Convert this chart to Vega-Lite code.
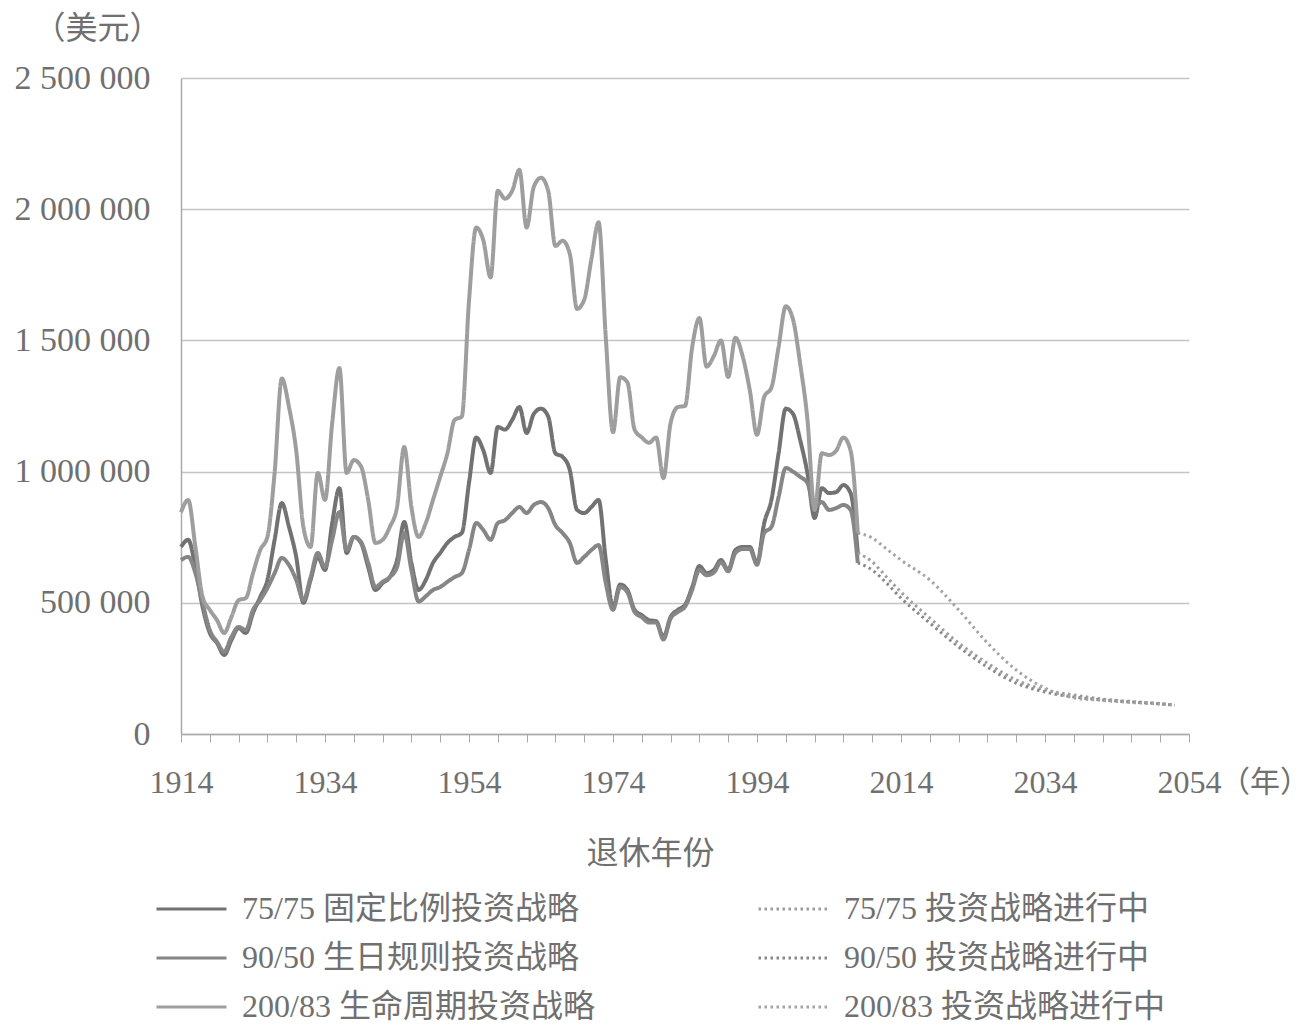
{
  "$schema": "https://vega.github.io/schema/vega-lite/v6.json",
  "width": 1008,
  "height": 656,
  "autosize": "none",
  "padding": {"left": 181, "top": 78, "right": 123, "bottom": 298},
  "background": "white",
  "datasets": {
    "solid": [
      {"year": 1914, "75/75 固定比例投资战略": 713000, "90/50 生日规则投资战略": 663000, "200/83 生命周期投资战略": 845000},
      {"year": 1915, "75/75 固定比例投资战略": 740000, "90/50 生日规则投资战略": 675000, "200/83 生命周期投资战略": 892000},
      {"year": 1916, "75/75 固定比例投资战略": 636000, "90/50 生日规则投资战略": 613000, "200/83 生命周期投资战略": 713000},
      {"year": 1917, "75/75 固定比例投资战略": 484000, "90/50 生日规则投资战略": 500000, "200/83 生命周期投资战略": 522000},
      {"year": 1918, "75/75 固定比例投资战略": 385000, "90/50 生日规则投资战略": 396000, "200/83 生命周期投资战略": 473000},
      {"year": 1919, "75/75 固定比例投资战略": 347000, "90/50 生日规则投资战略": 351000, "200/83 生命周期投资战略": 434000},
      {"year": 1920, "75/75 固定比例投资战略": 301000, "90/50 生日规则投资战略": 313000, "200/83 生命周期投资战略": 385000},
      {"year": 1921, "75/75 固定比例投资战略": 358000, "90/50 生日规则投资战略": 370000, "200/83 生命周期投资战略": 446000},
      {"year": 1922, "75/75 固定比例投资战略": 404000, "90/50 生日规则投资战略": 408000, "200/83 生命周期投资战略": 510000},
      {"year": 1923, "75/75 固定比例投资战略": 385000, "90/50 生日规则投资战略": 396000, "200/83 生命周期投资战略": 518000},
      {"year": 1924, "75/75 固定比例投资战略": 461000, "90/50 生日规则投资战略": 473000, "200/83 生命周期投资战略": 613000},
      {"year": 1925, "75/75 固定比例投资战略": 522000, "90/50 生日规则投资战略": 510000, "200/83 生命周期投资战略": 701000},
      {"year": 1926, "75/75 固定比例投资战略": 587000, "90/50 生日规则投资战略": 556000, "200/83 生命周期投资战略": 751000},
      {"year": 1927, "75/75 固定比例投资战略": 740000, "90/50 生日规则投资战略": 613000, "200/83 生命周期投资战略": 995000},
      {"year": 1928, "75/75 固定比例投资战略": 880000, "90/50 生日规则投资战略": 671000, "200/83 生命周期投资战略": 1355000},
      {"year": 1929, "75/75 固定比例投资战略": 789000, "90/50 生日规则投资战略": 644000, "200/83 生命周期投资战略": 1246000},
      {"year": 1930, "75/75 固定比例投资战略": 675000, "90/50 生日规则投资战略": 587000, "200/83 生命周期投资战略": 1080000},
      {"year": 1931, "75/75 固定比例投资战略": 500000, "90/50 生日规则投资战略": 510000, "200/83 生命周期投资战略": 789000},
      {"year": 1932, "75/75 固定比例投资战略": 587000, "90/50 生日规则投资战略": 598000, "200/83 生命周期投资战略": 713000},
      {"year": 1933, "75/75 固定比例投资战略": 675000, "90/50 生日规则投资战略": 690000, "200/83 生命周期投资战略": 995000},
      {"year": 1934, "75/75 固定比例投资战略": 625000, "90/50 生日规则投资战略": 636000, "200/83 生命周期投资战略": 892000},
      {"year": 1935, "75/75 固定比例投资战略": 804000, "90/50 生日规则投资战略": 740000, "200/83 生命周期投资战略": 1185000},
      {"year": 1936, "75/75 固定比例投资战略": 937000, "90/50 生日规则投资战略": 846000, "200/83 生命周期投资战略": 1395000},
      {"year": 1937, "75/75 固定比例投资战略": 690000, "90/50 生日规则投资战略": 701000, "200/83 生命周期投资战略": 995000},
      {"year": 1938, "75/75 固定比例投资战略": 751000, "90/50 生日规则投资战略": 751000, "200/83 生命周期投资战略": 1044000},
      {"year": 1939, "75/75 固定比例投资战略": 728000, "90/50 生日规则投资战略": 732000, "200/83 生命周期投资战略": 1020000},
      {"year": 1940, "75/75 固定比例投资战略": 636000, "90/50 生日规则投资战略": 652000, "200/83 生命周期投资战略": 892000},
      {"year": 1941, "75/75 固定比例投资战略": 549000, "90/50 生日规则投资战略": 560000, "200/83 生命周期投资战略": 728000},
      {"year": 1942, "75/75 固定比例投资战略": 575000, "90/50 生日规则投资战略": 580000, "200/83 生命周期投资战略": 740000},
      {"year": 1943, "75/75 固定比例投资战略": 598000, "90/50 生日规则投资战略": 598000, "200/83 生命周期投资战略": 789000},
      {"year": 1944, "75/75 固定比例投资战略": 663000, "90/50 生日规则投资战略": 636000, "200/83 生命周期投资战略": 865000},
      {"year": 1945, "75/75 固定比例投资战略": 808000, "90/50 生日规则投资战略": 766000, "200/83 生命周期投资战略": 1094000},
      {"year": 1946, "75/75 固定比例投资战略": 652000, "90/50 生日规则投资战略": 625000, "200/83 生命周期投资战略": 865000},
      {"year": 1947, "75/75 固定比例投资战略": 549000, "90/50 生日规则投资战略": 505000, "200/83 生命周期投资战略": 751000},
      {"year": 1948, "75/75 固定比例投资战略": 587000, "90/50 生日规则投资战略": 525000, "200/83 生命周期投资战略": 804000},
      {"year": 1949, "75/75 固定比例投资战略": 652000, "90/50 生日规则投资战略": 549000, "200/83 生命周期投资战略": 892000},
      {"year": 1950, "75/75 固定比例投资战略": 690000, "90/50 生日规则投资战略": 560000, "200/83 生命周期投资战略": 980000},
      {"year": 1951, "75/75 固定比例投资战略": 728000, "90/50 生日规则投资战略": 580000, "200/83 生命周期投资战略": 1070000},
      {"year": 1952, "75/75 固定比例投资战略": 751000, "90/50 生日规则投资战略": 598000, "200/83 生命周期投资战略": 1197000},
      {"year": 1953, "75/75 固定比例投资战略": 766000, "90/50 生日规则投资战略": 613000, "200/83 生命周期投资战略": 1210000},
      {"year": 1954, "75/75 固定比例投资战略": 957000, "90/50 生日规则投资战略": 701000, "200/83 生命周期投资战略": 1650000},
      {"year": 1955, "75/75 固定比例投资战略": 1130000, "90/50 生日规则投资战略": 804000, "200/83 生命周期投资战略": 1930000},
      {"year": 1956, "75/75 固定比例投资战略": 1080000, "90/50 生日规则投资战略": 777000, "200/83 生命周期投资战略": 1880000},
      {"year": 1957, "75/75 固定比例投资战略": 995000, "90/50 生日规则投资战略": 740000, "200/83 生命周期投资战略": 1740000},
      {"year": 1958, "75/75 固定比例投资战略": 1170000, "90/50 生日规则投资战略": 804000, "200/83 生命周期投资战略": 2070000},
      {"year": 1959, "75/75 固定比例投资战略": 1160000, "90/50 生日规则投资战略": 815000, "200/83 生命周期投资战略": 2040000},
      {"year": 1960, "75/75 固定比例投资战略": 1197000, "90/50 生日规则投资战略": 842000, "200/83 生命周期投资战略": 2070000},
      {"year": 1961, "75/75 固定比例投资战略": 1246000, "90/50 生日规则投资战略": 865000, "200/83 生命周期投资战略": 2150000},
      {"year": 1962, "75/75 固定比例投资战略": 1147000, "90/50 生日规则投资战略": 842000, "200/83 生命周期投资战略": 1930000},
      {"year": 1963, "75/75 固定比例投资战略": 1220000, "90/50 生日规则投资战略": 873000, "200/83 生命周期投资战略": 2085000},
      {"year": 1964, "75/75 固定比例投资战略": 1240000, "90/50 生日规则投资战略": 884000, "200/83 生命周期投资战略": 2120000},
      {"year": 1965, "75/75 固定比例投资战略": 1210000, "90/50 生日规则投资战略": 861000, "200/83 生命周期投资战略": 2070000},
      {"year": 1966, "75/75 固定比例投资战略": 1070000, "90/50 生日规则投资战略": 796000, "200/83 生命周期投资战略": 1860000},
      {"year": 1967, "75/75 固定比例投资战略": 1056000, "90/50 生日规则投资战略": 766000, "200/83 生命周期投资战略": 1880000},
      {"year": 1968, "75/75 固定比例投资战略": 1006000, "90/50 生日规则投资战略": 728000, "200/83 生命周期投资战略": 1830000},
      {"year": 1969, "75/75 固定比例投资战略": 854000, "90/50 生日规则投资战略": 652000, "200/83 生命周期投资战略": 1620000},
      {"year": 1970, "75/75 固定比例投资战略": 842000, "90/50 生日规则投资战略": 675000, "200/83 生命周期投资战略": 1655000},
      {"year": 1971, "75/75 固定比例投资战略": 865000, "90/50 生日规则投资战略": 701000, "200/83 生命周期投资战略": 1810000},
      {"year": 1972, "75/75 固定比例投资战略": 892000, "90/50 生日规则投资战略": 720000, "200/83 生命周期投资战略": 1950000},
      {"year": 1973, "75/75 固定比例投资战略": 663000, "90/50 生日规则投资战略": 575000, "200/83 生命周期投资战略": 1510000},
      {"year": 1974, "75/75 固定比例投资战略": 484000, "90/50 生日规则投资战略": 473000, "200/83 生命周期投资战略": 1150000},
      {"year": 1975, "75/75 固定比例投资战略": 570000, "90/50 生日规则投资战略": 560000, "200/83 生命周期投资战略": 1360000},
      {"year": 1976, "75/75 固定比例投资战略": 549000, "90/50 生日规则投资战略": 540000, "200/83 生命周期投资战略": 1340000},
      {"year": 1977, "75/75 固定比例投资战略": 473000, "90/50 生日规则投资战略": 465000, "200/83 生命周期投资战略": 1160000},
      {"year": 1978, "75/75 固定比例投资战略": 453000, "90/50 生日规则投资战略": 445000, "200/83 生命周期投资战略": 1130000},
      {"year": 1979, "75/75 固定比例投资战略": 434000, "90/50 生日规则投资战略": 425000, "200/83 生命周期投资战略": 1110000},
      {"year": 1980, "75/75 固定比例投资战略": 430000, "90/50 生日规则投资战略": 425000, "200/83 生命周期投资战略": 1130000},
      {"year": 1981, "75/75 固定比例投资战略": 370000, "90/50 生日规则投资战略": 360000, "200/83 生命周期投资战略": 975000},
      {"year": 1982, "75/75 固定比例投资战略": 446000, "90/50 生日规则投资战略": 440000, "200/83 生命周期投资战略": 1185000},
      {"year": 1983, "75/75 固定比例投资战略": 473000, "90/50 生日规则投资战略": 465000, "200/83 生命周期投资战略": 1246000},
      {"year": 1984, "75/75 固定比例投资战略": 492000, "90/50 生日规则投资战略": 485000, "200/83 生命周期投资战略": 1250000},
      {"year": 1985, "75/75 固定比例投资战略": 560000, "90/50 生日规则投资战略": 550000, "200/83 生命周期投资战略": 1475000},
      {"year": 1986, "75/75 固定比例投资战略": 640000, "90/50 生日规则投资战略": 625000, "200/83 生命周期投资战略": 1585000},
      {"year": 1987, "75/75 固定比例投资战略": 613000, "90/50 生日规则投资战略": 605000, "200/83 生命周期投资战略": 1400000},
      {"year": 1988, "75/75 固定比例投资战略": 625000, "90/50 生日规则投资战略": 615000, "200/83 生命周期投资战略": 1440000},
      {"year": 1989, "75/75 固定比例投资战略": 663000, "90/50 生日规则投资战略": 655000, "200/83 生命周期投资战略": 1500000},
      {"year": 1990, "75/75 固定比例投资战略": 625000, "90/50 生日规则投资战略": 620000, "200/83 生命周期投资战略": 1360000},
      {"year": 1991, "75/75 固定比例投资战略": 701000, "90/50 生日规则投资战略": 690000, "200/83 生命周期投资战略": 1510000},
      {"year": 1992, "75/75 固定比例投资战略": 713000, "90/50 生日规则投资战略": 705000, "200/83 生命周期投资战略": 1440000},
      {"year": 1993, "75/75 固定比例投资战略": 713000, "90/50 生日规则投资战略": 705000, "200/83 生命周期投资战略": 1310000},
      {"year": 1994, "75/75 固定比例投资战略": 652000, "90/50 生日规则投资战略": 645000, "200/83 生命周期投资战略": 1140000},
      {"year": 1995, "75/75 固定比例投资战略": 804000, "90/50 生日规则投资战略": 766000, "200/83 生命周期投资战略": 1285000},
      {"year": 1996, "75/75 固定比例投资战略": 892000, "90/50 生日规则投资战略": 789000, "200/83 生命周期投资战略": 1320000},
      {"year": 1997, "75/75 固定比例投资战略": 1070000, "90/50 生日规则投资战略": 903000, "200/83 生命周期投资战略": 1475000},
      {"year": 1998, "75/75 固定比例投资战略": 1240000, "90/50 生日规则投资战略": 1014000, "200/83 生命周期投资战略": 1630000},
      {"year": 1999, "75/75 固定比例投资战略": 1220000, "90/50 生日规则投资战略": 1000000, "200/83 生命周期投资战略": 1580000},
      {"year": 2000, "75/75 固定比例投资战略": 1120000, "90/50 生日规则投资战略": 980000, "200/83 生命周期投资战略": 1410000},
      {"year": 2001, "75/75 固定比例投资战略": 995000, "90/50 生日规则投资战略": 957000, "200/83 生命周期投资战略": 1200000},
      {"year": 2002, "75/75 固定比例投资战略": 823000, "90/50 生日规则投资战略": 865000, "200/83 生命周期投资战略": 854000},
      {"year": 2003, "75/75 固定比例投资战略": 937000, "90/50 生日规则投资战略": 884000, "200/83 生命周期投资战略": 1070000},
      {"year": 2004, "75/75 固定比例投资战略": 918000, "90/50 生日规则投资战略": 854000, "200/83 生命周期投资战略": 1063000},
      {"year": 2005, "75/75 固定比例投资战略": 922000, "90/50 生日规则投资战略": 861000, "200/83 生命周期投资战略": 1080000},
      {"year": 2006, "75/75 固定比例投资战略": 949000, "90/50 生日规则投资战略": 873000, "200/83 生命周期投资战略": 1130000},
      {"year": 2007, "75/75 固定比例投资战略": 918000, "90/50 生日规则投资战略": 854000, "200/83 生命周期投资战略": 1080000},
      {"year": 2008, "75/75 固定比例投资战略": 690000, "90/50 生日规则投资战略": 652000, "200/83 生命周期投资战略": 766000}
    ],
    "dotted": [
      {"year": 2008, "75/75 投资战略进行中": 690000, "90/50 投资战略进行中": 652000, "200/83 投资战略进行中": 766000},
      {"year": 2010, "75/75 投资战略进行中": 656000, "90/50 投资战略进行中": 625000, "200/83 投资战略进行中": 747000},
      {"year": 2012, "75/75 投资战略进行中": 598000, "90/50 投资战略进行中": 575000, "200/83 投资战略进行中": 705000},
      {"year": 2014, "75/75 投资战略进行中": 541000, "90/50 投资战略进行中": 518000, "200/83 投资战略进行中": 663000},
      {"year": 2018, "75/75 投资战略进行中": 442000, "90/50 投资战略进行中": 423000, "200/83 投资战略进行中": 587000},
      {"year": 2022, "75/75 投资战略进行中": 347000, "90/50 投资战略进行中": 332000, "200/83 投资战略进行中": 473000},
      {"year": 2026, "75/75 投资战略进行中": 270000, "90/50 投资战略进行中": 255000, "200/83 投资战略进行中": 347000},
      {"year": 2030, "75/75 投资战略进行中": 206000, "90/50 投资战略进行中": 194000, "200/83 投资战略进行中": 244000},
      {"year": 2034, "75/75 投资战略进行中": 168000, "90/50 投资战略进行中": 160000, "200/83 投资战略进行中": 175000},
      {"year": 2038, "75/75 投资战略进行中": 149000, "90/50 投资战略进行中": 141000, "200/83 投资战略进行中": 138000},
      {"year": 2042, "75/75 投资战略进行中": 133000, "90/50 投资战略进行中": 130000, "200/83 投资战略进行中": 128000},
      {"year": 2046, "75/75 投资战略进行中": 124000, "90/50 投资战略进行中": 122000, "200/83 投资战略进行中": 120000},
      {"year": 2050, "75/75 投资战略进行中": 116000, "90/50 投资战略进行中": 115000, "200/83 投资战略进行中": 114000},
      {"year": 2052, "75/75 投资战略进行中": 111000, "90/50 投资战略进行中": 110000, "200/83 投资战略进行中": 110000}
    ],
    "unit": [
      {"year": 2054, "value": 0, "label": "（年）"}
    ]
  },
  "encoding": {
    "x": {
      "field": "year",
      "type": "quantitative",
      "scale": {"domain": [1914, 2054], "nice": false, "zero": false},
      "axis": {
        "title": "退休年份",
        "titleX": 469,
        "titleAlign": "center",
        "values": [1914, 1918, 1922, 1926, 1930, 1934, 1938, 1942, 1946, 1950, 1954, 1958, 1962, 1966, 1970, 1974, 1978, 1982, 1986, 1990, 1994, 1998, 2002, 2006, 2010, 2014, 2018, 2022, 2026, 2030, 2034, 2038, 2042, 2046, 2050, 2054],
        "labelExpr": "(datum.value - 1914) % 20 == 0 ? '' + datum.value : ''",
        "grid": false,
        "tickSize": 8,
        "tickColor": "#aaaaaa",
        "domainColor": "#aaaaaa",
        "domainWidth": 1.5,
        "labelPadding": 25,
        "labelFontSize": 32,
        "labelColor": "#707070",
        "labelFlush": false,
        "labelOverlap": false,
        "titlePadding": 40,
        "titleFontSize": 32,
        "titleFontWeight": "normal",
        "titleColor": "#707070"
      }
    },
    "y": {
      "field": "value",
      "type": "quantitative",
      "scale": {"domain": [0, 2500000], "nice": false},
      "axis": {
        "title": "（美元）",
        "titleAngle": 0,
        "titleX": -84,
        "titleY": -50,
        "titleAlign": "center",
        "titleBaseline": "middle",
        "titleFontSize": 32,
        "titleFontWeight": "normal",
        "titleColor": "#707070",
        "values": [0, 500000, 1000000, 1500000, 2000000, 2500000],
        "labelExpr": "replace(replace(format(datum.value, ','), ',', ' '), ',', ' ')",
        "ticks": false,
        "labelPadding": 31,
        "labelFontSize": 34,
        "labelColor": "#707070",
        "domainColor": "#aaaaaa",
        "domainWidth": 1.5,
        "gridColor": "#c4c4c4",
        "gridWidth": 1.5
      }
    },
    "color": {
      "field": "series",
      "type": "nominal",
      "scale": {
        "domain": ["75/75 固定比例投资战略", "90/50 生日规则投资战略", "200/83 生命周期投资战略", "75/75 投资战略进行中", "90/50 投资战略进行中", "200/83 投资战略进行中"],
        "range": ["#727272", "#868686", "#9e9e9e", "#9c9c9c", "#888888", "#a4a4a4"]
      },
      "legend": {"title": null}
    },
    "strokeDash": {
      "field": "series",
      "type": "nominal",
      "scale": {
        "domain": ["75/75 固定比例投资战略", "90/50 生日规则投资战略", "200/83 生命周期投资战略", "75/75 投资战略进行中", "90/50 投资战略进行中", "200/83 投资战略进行中"],
        "range": [[1, 0], [1, 0], [1, 0], [2.5, 3.5], [2.5, 3.5], [2.5, 3.5]]
      },
      "legend": {"title": null}
    }
  },
  "layer": [
    {
      "data": {"name": "solid"},
      "transform": [
        {"fold": ["75/75 固定比例投资战略", "90/50 生日规则投资战略", "200/83 生命周期投资战略"], "as": ["series", "value"]}
      ],
      "mark": {"type": "line", "interpolate": "monotone", "strokeWidth": 4}
    },
    {
      "data": {"name": "dotted"},
      "transform": [
        {"fold": ["75/75 投资战略进行中", "90/50 投资战略进行中", "200/83 投资战略进行中"], "as": ["series", "value"]}
      ],
      "mark": {"type": "line", "interpolate": "monotone", "strokeWidth": 3}
    },
    {
      "data": {"name": "unit"},
      "mark": {"type": "text", "align": "left", "baseline": "middle", "dx": 31, "dy": 49, "fontSize": 30, "color": "#707070"},
      "encoding": {
        "text": {"field": "label"},
        "color": {"value": "#707070"},
        "strokeDash": {"value": [1, 0]}
      }
    }
  ],
  "config": {
    "font": "Liberation Serif, Noto Sans CJK SC",
    "view": {"stroke": null},
    "legend": {
      "orient": "none",
      "legendX": -26,
      "legendY": 811,
      "columns": 2,
      "symbolType": "stroke",
      "symbolSize": 4900,
      "symbolStrokeWidth": 3,
      "labelOffset": 14,
      "labelFontSize": 32,
      "labelColor": "#707070",
      "labelLimit": 0,
      "clipHeight": 40,
      "rowPadding": 9,
      "columnPadding": 162
    }
  }
}
